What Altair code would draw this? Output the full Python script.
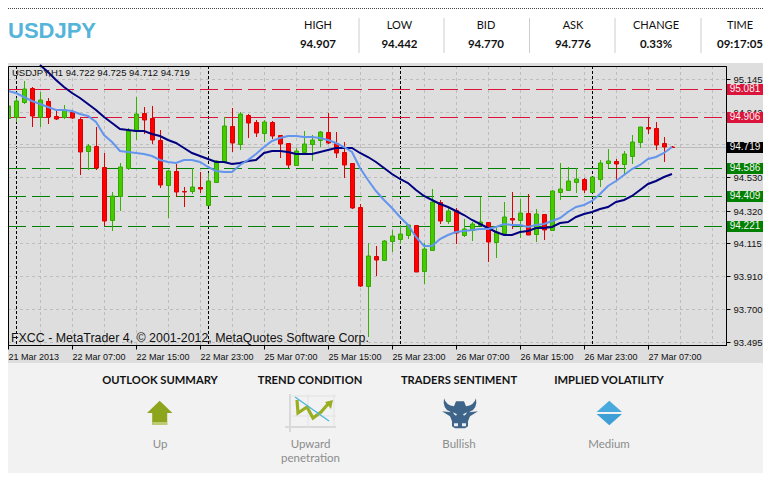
import altair as alt
import pandas as pd

# ---- chart values ----
symbol = "USDJPY"
quote_labels = ["HIGH", "LOW", "BID", "ASK", "CHANGE", "TIME"]
quote_values = ["94.907", "94.442", "94.770", "94.776", "0.33%", "09:17:05"]

opens = [94.899,94.905,95.004,95.089,94.910,95.006,94.914,94.905,94.941,94.893,94.696,94.723,94.591,94.263,94.409,94.589,94.822,94.930,94.899,94.763,
         94.483,94.566,94.441,94.445,94.466,94.353,94.501,94.623,94.849,94.736,94.920,94.874,94.809,94.874,94.792,94.742,94.608,94.688,94.736,94.761,
         94.811,94.746,94.686,94.617,94.342,93.849,94.035,94.010,94.131,94.144,94.169,94.229,93.943,94.075,94.372,94.257,94.324,94.169,94.200,94.232,
         94.246,94.125,94.177,94.273,94.263,94.303,94.175,94.296,94.200,94.439,94.451,94.501,94.518,94.439,94.520,94.617,94.633,94.614,94.665,94.748,
         94.845,94.838,94.742,94.722]
highs = [94.976,95.025,95.133,95.094,95.066,95.027,94.951,94.983,94.951,94.899,94.736,94.845,94.681,94.439,94.617,94.836,95.033,94.970,94.976,94.826,
         94.575,94.610,94.468,94.585,94.562,94.554,94.637,94.905,94.962,94.941,94.924,94.889,94.889,94.882,94.794,94.746,94.711,94.820,94.794,94.820,
         94.932,94.813,94.748,94.621,94.361,94.116,94.098,94.135,94.198,94.229,94.234,94.229,94.114,94.453,94.386,94.334,94.334,94.267,94.246,94.403,
         94.250,94.209,94.372,94.437,94.393,94.422,94.328,94.298,94.449,94.617,94.593,94.585,94.522,94.529,94.637,94.707,94.644,94.694,94.794,94.842,
         94.903,94.874,94.782,94.725]
lows = [94.815,94.878,94.991,94.845,94.845,94.863,94.889,94.895,94.893,94.543,94.575,94.577,94.221,94.194,94.319,94.577,94.761,94.801,94.740,94.464,
        94.275,94.407,94.345,94.426,94.432,94.349,94.495,94.617,94.690,94.702,94.778,94.782,94.750,94.769,94.652,94.587,94.602,94.686,94.633,94.719,
        94.740,94.652,94.527,94.330,93.842,93.524,93.909,94.003,94.060,94.110,94.139,93.936,93.859,94.073,94.234,94.236,94.110,94.156,94.129,94.229,
        93.999,94.022,94.167,94.204,94.150,94.169,94.125,94.135,94.198,94.388,94.449,94.430,94.430,94.434,94.470,94.585,94.512,94.547,94.614,94.715,
        94.801,94.702,94.625,94.712]
closes = [94.976,95.006,95.081,94.916,95.012,94.910,94.897,94.949,94.899,94.690,94.723,94.589,94.257,94.414,94.591,94.822,94.924,94.891,94.765,94.483,
          94.566,94.439,94.439,94.466,94.458,94.504,94.629,94.849,94.746,94.924,94.872,94.809,94.874,94.790,94.740,94.608,94.692,94.736,94.761,94.811,
          94.746,94.683,94.608,94.336,93.846,94.033,94.012,94.129,94.160,94.173,94.229,93.936,94.079,94.372,94.255,94.317,94.177,94.202,94.234,94.246,
          94.125,94.183,94.278,94.261,94.303,94.169,94.296,94.198,94.443,94.453,94.504,94.516,94.451,94.529,94.617,94.629,94.614,94.675,94.748,94.842,
          94.834,94.734,94.721,94.719]
ma_fast = [95.071,95.056,95.033,95.010,94.989,94.972,94.951,94.951,94.947,94.924,94.916,94.878,94.794,94.748,94.692,94.688,94.683,94.677,94.665,94.640,
           94.623,94.617,94.637,94.640,94.627,94.596,94.568,94.564,94.564,94.604,94.637,94.673,94.717,94.757,94.778,94.790,94.790,94.784,94.782,94.776,
           94.763,94.746,94.721,94.686,94.585,94.512,94.443,94.386,94.334,94.282,94.227,94.156,94.100,94.100,94.141,94.167,94.183,94.192,94.198,94.202,
           94.202,94.215,94.234,94.232,94.232,94.219,94.229,94.234,94.257,94.271,94.313,94.340,94.357,94.382,94.422,94.476,94.506,94.545,94.579,94.606,
           94.642,94.656,94.683,94.717]
ma_slow_start = 4
ma_slow = [95.234,95.188,95.140,95.098,95.060,95.025,94.991,94.951,94.910,94.868,94.832,94.826,94.822,94.820,94.803,94.786,
           94.765,94.746,94.711,94.683,94.665,94.642,94.625,94.623,94.612,94.617,94.631,94.640,94.683,94.694,94.694,94.686,94.677,94.675,94.675,94.686,
           94.698,94.711,94.713,94.713,94.679,94.654,94.627,94.589,94.552,94.520,94.491,94.449,94.411,94.386,94.359,94.345,94.319,94.292,94.263,94.236,
           94.209,94.183,94.167,94.169,94.188,94.194,94.209,94.213,94.217,94.244,94.250,94.278,94.296,94.311,94.332,94.340,94.372,94.386,94.411,94.449,
           94.485,94.508,94.529,94.552]

price_ticks = [95.145, 94.940, 94.735, 94.530, 94.320, 94.115, 93.910, 93.700, 93.495]
time_ticks = list(range(0, 88, 8))
time_labels = ["21 Mar 2013", "22 Mar 07:00", "22 Mar 15:00", "22 Mar 23:00", "25 Mar 07:00", "25 Mar 15:00",
               "25 Mar 23:00", "26 Mar 07:00", "26 Mar 15:00", "26 Mar 23:00", "27 Mar 07:00"]
minor_bars = list(range(0, 92, 4))
day_bars = [1, 25, 49, 73]
red_levels = [95.081, 94.906]
green_levels = [94.586, 94.409, 94.221]
last_price = [94.719]
chart_caption = "USDJPY,H1  94.722 94.725 94.712 94.719"
chart_footer = "FXCC - MetaTrader 4, \u00a9 2001-2012, MetaQuotes Software Corp."
panel_titles = ["OUTLOOK SUMMARY", "TREND CONDITION", "TRADERS SENTIMENT", "IMPLIED VOLATILITY"]
panel_captions = [["Up"], ["Upward", "penetration"], ["Bullish"], ["Medium"]]

# ---- layout (page coordinates minus the view origin) ----
OX, OY = 8, 63
VW, VH = 755, 300
FR_R, FR_T, FR_B = 718, 3, 282
xs = alt.Scale(domain=[-0.0375, 89.7125], range=[0, FR_R], nice=False, zero=False, padding=0, round=True)
ys = alt.Scale(domain=[93.476, 95.2275], range=[FR_B, FR_T], nice=False, zero=False, padding=0, round=True)
AF = "Liberation Sans"
HF = "Lato"

label_expr = "[" + ",".join("'%s'" % t for t in time_labels) + "][datum.value/8]"
x_axis = alt.Axis(orient="bottom", offset=FR_B - VH, values=time_ticks, labelExpr=label_expr, title=None, grid=False,
                  tickSize=4, tickColor="black", domainColor="black", labelAlign="left", labelPadding=3, labelFont=AF,
                  labelFontSize=9, labelColor="#111111", labelOverlap=False, labelFlush=False, labelBound=False)
y_axis = alt.Axis(orient="right", offset=FR_R - VW, values=price_ticks, format=".3f", title=None, grid=False,
                  tickSize=4, tickColor="black", domainColor="black", labelPadding=3, labelFont=AF, labelFontSize=9.5,
                  labelColor="#111111", labelOverlap=False, labelFlush=False, labelBound=False)

def X(f="i"):
    return alt.X(f + ":Q", scale=xs, axis=x_axis)

def Y(f):
    return alt.Y(f + ":Q", scale=ys, axis=y_axis, stack=None)

one = alt.Data(values=[{"k": 0}])

def txt(s, px, py, size=12, color="#111111", font=HF, align="center", weight="normal"):
    return alt.Chart(one).mark_text(text=s, font=font, fontSize=size, color=color, align=align, baseline="middle",
                                    fontWeight=weight).encode(x=alt.value(px - OX), y=alt.value(py - OY))

def hline(px1, px2, py, color, dash=None, w=1):
    kw = {"strokeDash": dash} if dash else {}
    return alt.Chart(one).mark_rule(color=color, strokeWidth=w, **kw).encode(
        x=alt.value(px1 - OX), x2=alt.value(px2 - OX), y=alt.value(py - OY))

def vline(px, py1, py2, color, w=1):
    return alt.Chart(one).mark_rule(color=color, strokeWidth=w).encode(
        x=alt.value(px - OX), y=alt.value(py1 - OY), y2=alt.value(py2 - OY))

def rect(px1, px2, py1, py2, color):
    return alt.Chart(one).mark_rect(color=color).encode(
        x=alt.value(px1 - OX), x2=alt.value(px2 - OX), y=alt.value(py1 - OY), y2=alt.value(py2 - OY))

def icon(path, px, py, fill=None, stroke=None, w=0):
    kw = dict(shape=path, size=4, opacity=1)
    if fill:
        m = alt.Chart(one).mark_point(filled=True, fill=fill, strokeWidth=0, **kw)
    else:
        m = alt.Chart(one).mark_point(filled=False, stroke=stroke, strokeWidth=w, **kw)
    return m.encode(x=alt.value(px - OX), y=alt.value(py - OY))

candles = pd.DataFrame({"i": range(len(opens)), "o": opens, "h": highs, "l": lows, "c": closes})
fast = pd.DataFrame({"i": range(len(ma_fast)), "v": ma_fast})
slow = pd.DataFrame({"i": range(ma_slow_start, ma_slow_start + len(ma_slow)), "v": ma_slow})

layers = []
# plot-area grid
layers.append(alt.Chart(pd.DataFrame({"p": price_ticks})).mark_rule(color="#bdbdbd", strokeDash=[3, 3], yOffset=0.5).encode(
    y=Y("p"), x=alt.value(0), x2=alt.value(FR_R)))
layers.append(alt.Chart(pd.DataFrame({"i": minor_bars})).mark_rule(color="#bdbdbd", strokeDash=[3, 3], xOffset=0.5).encode(
    x=X(), y=alt.value(FR_T), y2=alt.value(FR_B)))
layers.append(alt.Chart(pd.DataFrame({"i": day_bars})).mark_rule(color="black", strokeDash=[3, 2], xOffset=0.5).encode(
    x=X(), y=alt.value(FR_T), y2=alt.value(FR_B)))
layers.append(alt.Chart(pd.DataFrame({"p": last_price})).mark_rule(color="#bcbcbc", yOffset=0.5).encode(
    y=Y("p"), x=alt.value(0), x2=alt.value(FR_R)))
layers.append(alt.Chart(pd.DataFrame({"p": red_levels})).mark_rule(color="#dc143c", strokeDash=[18, 6], yOffset=0.5).encode(
    y=Y("p"), x=alt.value(0), x2=alt.value(FR_R)))
layers.append(alt.Chart(pd.DataFrame({"p": green_levels})).mark_rule(color="#008000", strokeDash=[18, 6], yOffset=0.5).encode(
    y=Y("p"), x=alt.value(0), x2=alt.value(FR_R)))

# candles
is_up = "datum.c >= datum.o"
layers.append(alt.Chart(candles).mark_rule(strokeWidth=1, clip=True, xOffset=0.5).encode(
    x=X(), y=Y("l"), y2="h:Q",
    color=alt.condition(is_up, alt.value("#33b300"), alt.value("#e00000"))))
layers.append(alt.Chart(candles).mark_bar(width=4, strokeWidth=1, clip=True, xOffset=0.5, yOffset=0.5).encode(
    x=X(), y=Y("o"), y2="c:Q",
    fill=alt.condition(is_up, alt.value("#44cc00"), alt.value("#ff0000")),
    stroke=alt.condition(is_up, alt.value("#35a800"), alt.value("#d80000"))))

# moving averages
layers.append(alt.Chart(slow).mark_line(color="#000080", strokeWidth=2, clip=True, interpolate="linear").encode(x=X(), y=Y("v")))
layers.append(alt.Chart(fast).mark_line(color="#6495ed", strokeWidth=2, clip=True, interpolate="linear").encode(x=X(), y=Y("v")))

# price flags
for vals, col in [(red_levels, "#dc143c"), (green_levels, "#008000"), (last_price, "#000000")]:
    d = pd.DataFrame({"p": vals, "s": ["%.3f" % v for v in vals]})
    layers.append(alt.Chart(d).mark_rect(color=col, height=11, yOffset=0.5).encode(
        y=Y("p"), x=alt.value(727 - OX), x2=alt.value(763 - OX)))
    layers.append(alt.Chart(d).mark_text(color="#f4f4f4", font=AF, fontSize=10, align="center", baseline="middle").encode(
        y=Y("p"), x=alt.value(745 - OX), text="s:N"))

# frame
layers.append(alt.Chart(one).mark_rect(fillOpacity=0, stroke="black", strokeWidth=1).encode(
    x=alt.value(0.5), x2=alt.value(FR_R + 0.5), y=alt.value(FR_T + 0.5), y2=alt.value(FR_B + 0.5)))

# texts on the plot
layers.append(txt(chart_caption, 12, 73, 9.5, "#111111", AF, "left"))
layers.append(txt(chart_footer, 11, 338, 12.4, "#111111", AF, "left"))

# header
layers.append(hline(8, 763, 8.5, "#444444", [1, 1]))
layers.append(txt(symbol, 8, 31, 22, "#54b4d9", AF, "left", "bold"))
for s, v, cx in zip(quote_labels, quote_values, [318, 399.5, 486, 573, 656, 740]):
    layers.append(txt(s, cx, 25.5, 11))
    layers.append(txt(v, cx, 45, 11.5, weight="bold"))
for dx in [359, 444, 529.5, 615, 701]:
    layers.append(vline(dx, 18, 53, "#cccccc"))

# outlook panel
layers.append(rect(8, 763, 363, 473, "#f2f2f2"))
for s, cx in zip(panel_titles, [160, 310, 459, 609]):
    layers.append(txt(s, cx, 380.5, 11.2, "#111111", weight="bold"))
for lines, cx in zip(panel_captions, [160, 310.5, 459, 609]):
    for n, s in enumerate(lines):
        layers.append(txt(s, cx, 445 + 14 * n, 11.5, "#8c8c8c"))

# icons
layers.append(icon("M0,-12.3L12.7,0L7.5,0L7.5,12L-7.5,12L-7.5,0L-12.7,0Z", 159.7, 413, fill="#8da41d"))
layers.append(icon("M-7.5,9L7.5,9L7.5,12L-7.5,12Z", 159.7, 413, fill="#bccb74"))

layers.append(icon("M-20,-19L-20,19M-25,14L26,14", 310, 413, stroke="#d9d9d9", w=2))
layers.append(icon("M-2,-19L-2,14M24,-19L24,14M-20,-17L26,-17M-20,3L26,3", 310, 413, stroke="#e2e2e2", w=1))
layers.append(icon("M-13,-13L-12,0L-3,-6L3,5L11,-1L18,-9", 310, 413, stroke="#9aae22", w=3.2))
layers.append(icon("M23,-13L15,-11L21,-4Z", 310, 413, fill="#9aae22"))
layers.append(icon("M-15,-16L19,8", 310, 413, stroke="#4db8e0", w=1.4))

bull = ("M-16,-15Q-14,-8-6,-7L-4,-12L4,-12L6,-7Q14,-8 16,-15Q18,-4 9,-1L18,-2L10,3L8,8L8,13L5,15L-5,15L-8,13L-8,8"
        "L-10,3L-18,-2L-9,-1Q-18,-4-16,-15Z")
layers.append(icon(bull, 460, 413.3, fill="#3f6489"))
layers.append(icon("M-7,-1L-3,1L-4,2.5L-6,1ZM7,-1L3,1L4,2.5L6,1ZM-6,10L-2,10L-2,13L-6,13ZM2,10L6,10L6,13L2,13Z", 460, 413.3, fill="#e8eef2"))

layers.append(icon("M-12.7,-1L0,-12.3L12.7,-1Z", 609.3, 413, fill="#47a9dc"))
layers.append(icon("M-12.7,1L0,12.3L12.7,1Z", 609.3, 413, fill="#3d9fd5"))

chart = alt.layer(*layers).properties(
    width=VW, height=VH,
    padding={"left": 0, "top": OY - 8, "right": 0, "bottom": 110},
    autosize=alt.AutoSizeParams(type="none"),
    background="white",
).configure_view(fill="#dedede", stroke=None)

chart.save("out.html", embed_options={"renderer": "svg", "actions": False})
